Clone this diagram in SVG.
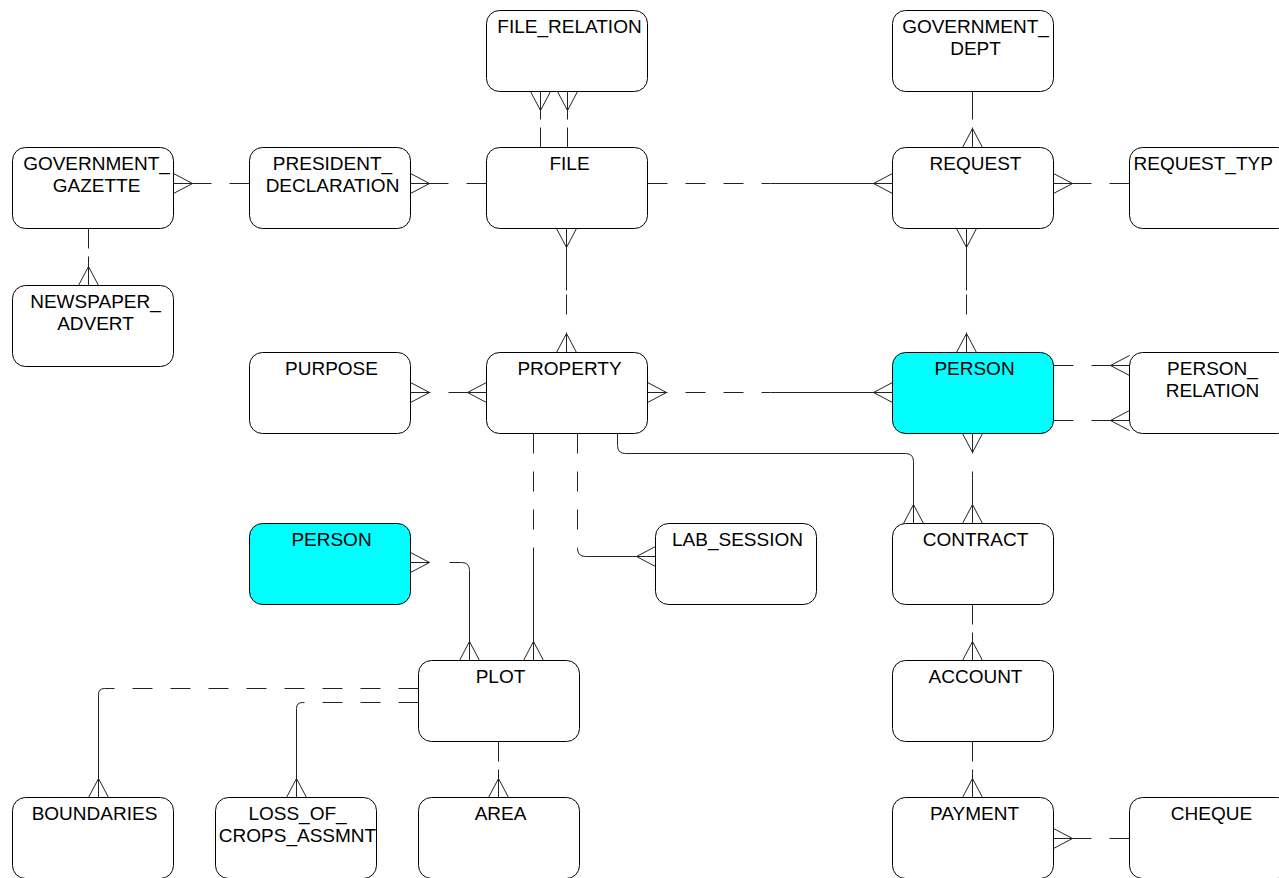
<svg xmlns="http://www.w3.org/2000/svg" width="1279" height="878" viewBox="0 0 1279 878">
  <style>
    .box { fill: #ffffff; stroke: #000000; stroke-width: 1; }
    .hot { fill: #00ffff; }
    .lbl { font-family: "Liberation Sans", Arial, sans-serif; font-size: 19px; fill: #000000; text-anchor: middle; }
    .solid { fill: none; stroke: #222222; stroke-width: 1; }
    .dash { fill: none; stroke: #222222; stroke-width: 1; stroke-dasharray: 20 18; }
    .crow { fill: none; stroke: #222222; stroke-width: 1; stroke-linejoin: miter; }
  </style>
  <rect x="0" y="0" width="1279" height="878" fill="#ffffff"/>
  <g transform="translate(0.5 0.5)">
    <!-- entities -->
    <g id="file_relation"><rect class="box" x="486" y="10" width="161" height="81" rx="13"/><text class="lbl" x="569" y="32">FILE_RELATION</text></g>
    <g id="government_dept"><rect class="box" x="892" y="10" width="161" height="81" rx="13"/><text class="lbl" x="975" y="32">GOVERNMENT_</text><text class="lbl" x="975" y="54">DEPT</text></g>
    <g id="government_gazette"><rect class="box" x="12" y="147" width="161" height="81" rx="13"/><text class="lbl" x="96" y="169">GOVERNMENT_</text><text class="lbl" x="96" y="191">GAZETTE</text></g>
    <g id="president_declaration"><rect class="box" x="249" y="147" width="161" height="81" rx="13"/><text class="lbl" x="332" y="169">PRESIDENT_</text><text class="lbl" x="332" y="191">DECLARATION</text></g>
    <g id="file"><rect class="box" x="486" y="147" width="161" height="81" rx="13"/><text class="lbl" x="569" y="169">FILE</text></g>
    <g id="request"><rect class="box" x="892" y="147" width="161" height="81" rx="13"/><text class="lbl" x="975" y="169">REQUEST</text></g>
    <g id="request_type"><rect class="box" x="1129" y="147" width="161" height="81" rx="13"/><text class="lbl" x="1133" y="169" style="text-anchor:start">REQUEST_TYP</text></g>
    <g id="newspaper_advert"><rect class="box" x="12" y="285" width="161" height="81" rx="13"/><text class="lbl" x="95" y="307">NEWSPAPER_</text><text class="lbl" x="95" y="329">ADVERT</text></g>
    <g id="purpose"><rect class="box" x="249" y="352" width="161" height="81" rx="13"/><text class="lbl" x="331" y="374">PURPOSE</text></g>
    <g id="property"><rect class="box" x="486" y="352" width="161" height="81" rx="13"/><text class="lbl" x="569" y="374">PROPERTY</text></g>
    <g id="person_main"><rect class="box hot" x="892" y="352" width="161" height="81" rx="13"/><text class="lbl" x="974" y="374">PERSON</text></g>
    <g id="person_relation"><rect class="box" x="1129" y="352" width="161" height="81" rx="13"/><text class="lbl" x="1212" y="374">PERSON_</text><text class="lbl" x="1212" y="396">RELATION</text></g>
    <g id="person_plot"><rect class="box hot" x="249" y="523" width="161" height="81" rx="13"/><text class="lbl" x="331" y="545">PERSON</text></g>
    <g id="lab_session"><rect class="box" x="655" y="523" width="161" height="81" rx="13"/><text class="lbl" x="737" y="545">LAB_SESSION</text></g>
    <g id="contract"><rect class="box" x="892" y="523" width="161" height="81" rx="13"/><text class="lbl" x="975" y="545">CONTRACT</text></g>
    <g id="plot"><rect class="box" x="418" y="660" width="161" height="81" rx="13"/><text class="lbl" x="500" y="682">PLOT</text></g>
    <g id="account"><rect class="box" x="892" y="660" width="161" height="81" rx="13"/><text class="lbl" x="975" y="682">ACCOUNT</text></g>
    <g id="boundaries"><rect class="box" x="12" y="797" width="161" height="81" rx="13"/><text class="lbl" x="94" y="819">BOUNDARIES</text></g>
    <g id="loss_of_crops_assmnt"><rect class="box" x="215" y="797" width="161" height="81" rx="13"/><text class="lbl" x="297" y="819">LOSS_OF_</text><text class="lbl" x="297" y="841">CROPS_ASSMNT</text></g>
    <g id="area"><rect class="box" x="418" y="797" width="161" height="81" rx="13"/><text class="lbl" x="500" y="819">AREA</text></g>
    <g id="payment"><rect class="box" x="892" y="797" width="161" height="81" rx="13"/><text class="lbl" x="974" y="819">PAYMENT</text></g>
    <g id="cheque"><rect class="box" x="1129" y="797" width="161" height="81" rx="13"/><text class="lbl" x="1211" y="819">CHEQUE</text></g>

    <!-- relationships: each line is split in two halves, solid or dashed, with crow's feet on the "many" ends -->
    <g id="connectors">
      <!-- gazette - newspaper advert -->
      <path class="dash" d="M88,228 V256"/><path class="solid" d="M88,256 V285"/>
      <path class="crow" d="M78,285 L88,266 L98,285"/>
      <!-- gazette - president declaration -->
      <path class="solid" d="M173,183 H211"/><path class="dash" d="M249,183 H211"/>
      <path class="crow" d="M173,173 L192,183 L173,193"/>
      <!-- president declaration - file -->
      <path class="solid" d="M410,183 H448"/><path class="dash" d="M486,183 H448"/>
      <path class="crow" d="M410,173 L429,183 L410,193"/>
      <!-- file relation - file (two links) -->
      <path class="solid" d="M540,91 V119"/><path class="dash" d="M540,147 V119"/>
      <path class="crow" d="M530,91 L540,110 L550,91"/>
      <path class="solid" d="M567,91 V119"/><path class="dash" d="M567,147 V119"/>
      <path class="crow" d="M557,91 L567,110 L577,91"/>
      <!-- file - property -->
      <path class="solid" d="M566,228 V290"/><path class="dash" d="M566,352 V290"/>
      <path class="crow" d="M556,228 L566,247 L576,228"/>
      <path class="crow" d="M556,352 L566,333 L576,352"/>
      <!-- file - request -->
      <path class="dash" d="M647,183 H770"/><path class="solid" d="M770,183 H892"/>
      <path class="crow" d="M892,173 L873,183 L892,193"/>
      <!-- government dept - request -->
      <path class="solid" d="M972,91 V119"/><path class="dash" d="M972,147 V119"/>
      <path class="crow" d="M962,147 L972,128 L982,147"/>
      <!-- request - request type -->
      <path class="solid" d="M1053,183 H1091"/><path class="dash" d="M1129,183 H1091"/>
      <path class="crow" d="M1053,173 L1072,183 L1053,193"/>
      <!-- request - person -->
      <path class="solid" d="M966,228 V290"/><path class="dash" d="M966,352 V290"/>
      <path class="crow" d="M956,228 L966,247 L976,228"/>
      <path class="crow" d="M956,352 L966,333 L976,352"/>
      <!-- purpose - property -->
      <path class="dash" d="M410,392 H448"/><path class="solid" d="M448,392 H486"/>
      <path class="crow" d="M410,382 L429,392 L410,402"/>
      <path class="crow" d="M486,382 L467,392 L486,402"/>
      <!-- property - person -->
      <path class="dash" d="M647,392 H770"/><path class="solid" d="M770,392 H892"/>
      <path class="crow" d="M647,382 L666,392 L647,402"/>
      <path class="crow" d="M892,382 L873,392 L892,402"/>
      <!-- person - person relation (two links) -->
      <path class="dash" d="M1053,365 H1091"/><path class="solid" d="M1091,365 H1129"/>
      <path class="crow" d="M1129,355 L1110,365 L1129,375"/>
      <path class="dash" d="M1053,420 H1091"/><path class="solid" d="M1091,420 H1129"/>
      <path class="crow" d="M1129,410 L1110,420 L1129,430"/>
      <!-- person - contract -->
      <path class="dash" d="M972,433 V478"/><path class="solid" d="M972,478 V523"/>
      <path class="crow" d="M962,433 L972,452 L982,433"/>
      <path class="crow" d="M962,523 L972,504 L982,523"/>
      <!-- property - contract -->
      <path class="solid" d="M617,433 V445 Q617,453 625,453 H905 Q913,453 913,461 V523"/>
      <path class="crow" d="M903,523 L913,504 L923,523"/>
      <!-- property - plot -->
      <path class="dash" d="M533,433 V547"/><path class="solid" d="M533,547 V660"/>
      <path class="crow" d="M523,660 L533,641 L543,660"/>
      <!-- property - lab session -->
      <path class="dash" d="M577,433 V548"/><path class="solid" d="M577,548 Q577,556 585,556 H655"/>
      <path class="crow" d="M655,546 L636,556 L655,566"/>
      <!-- person - plot -->
      <path class="solid" d="M410,562 H429"/><path class="solid" d="M449,562 H461 Q469,562 469,570 V660"/>
      <path class="crow" d="M410,552 L429,562 L410,572"/>
      <path class="crow" d="M459,660 L469,641 L479,660"/>
      <!-- plot - boundaries -->
      <path class="dash" d="M418,688 H114"/><path class="solid" d="M114,688 H104 Q98,688 98,694 V797"/>
      <path class="crow" d="M88,797 L98,778 L108,797"/>
      <!-- plot - loss of crops assessment -->
      <path class="dash" d="M418,702 H304"/><path class="solid" d="M304,702 H302 Q296,702 296,708 V797"/>
      <path class="crow" d="M286,797 L296,778 L306,797"/>
      <!-- plot - area -->
      <path class="dash" d="M498,741 V769"/><path class="solid" d="M498,769 V797"/>
      <path class="crow" d="M488,797 L498,778 L508,797"/>
      <!-- contract - account -->
      <path class="dash" d="M972,604 V632"/><path class="solid" d="M972,632 V660"/>
      <path class="crow" d="M962,660 L972,641 L982,660"/>
      <!-- account - payment -->
      <path class="dash" d="M972,741 V769"/><path class="solid" d="M972,769 V797"/>
      <path class="crow" d="M962,797 L972,778 L982,797"/>
      <!-- payment - cheque -->
      <path class="solid" d="M1053,838 H1091"/><path class="dash" d="M1129,838 H1091"/>
      <path class="crow" d="M1053,828 L1072,838 L1053,848"/>
    </g>
  </g>
</svg>
